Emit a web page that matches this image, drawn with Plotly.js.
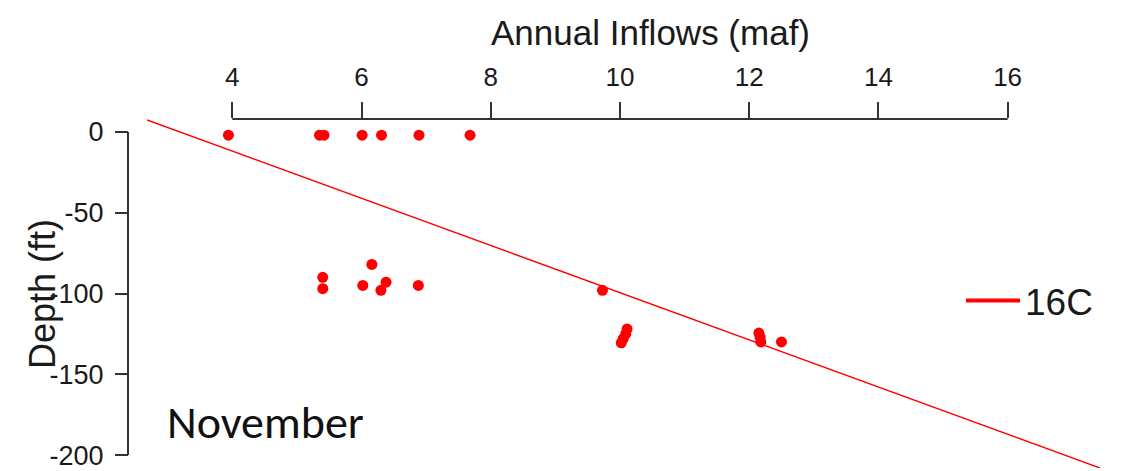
<!DOCTYPE html>
<html>
<head>
<meta charset="utf-8">
<script src="https://cdn.plot.ly/plotly-3.0.1.min.js"></script>
<style>html,body{margin:0;padding:0;background:#fff;}#chart{width:1128px;height:471px;}</style>
</head>
<body>
<div id="chart"></div>
<script>
// Observed points: annual inflow (maf) vs depth (ft) of the 16C isotherm, November
const inflows = [3.94, 5.35, 5.42, 6.01, 6.31, 6.89, 7.68,
                 5.40, 5.40, 6.02, 6.16, 6.30, 6.38, 6.88, 9.73,
                 10.11, 10.09, 10.05, 10.02, 12.15, 12.17, 12.18, 12.50];
const depths  = [-2, -2, -2, -2, -2, -2, -2,
                 -90, -97, -95, -82, -98, -93, -95, -98,
                 -122, -125, -128, -130.5, -124.5, -127, -130, -130];
// Fitted regression line (depth = intercept + slope * inflow)
const fitIntercept = 46.5;
const fitSlope = -14.6;
const seriesName = "16C";
const xTickVals = [4, 6, 8, 10, 12, 14, 16];
const yTickVals = [0, -50, -100, -150, -200];
const xTitle = "Annual Inflows (maf)";
const yTitle = "Depth (ft)";
const panelLabel = "November";

const xRange = [2.68, 17.43];
const yRange = [-208, 8];
const fitX = xRange.slice();
const fitY = fitX.map(v => fitIntercept + fitSlope * v);

const red = "#ff0000";
const axisColor = "#333333";
const textColor = "#1a1a1a";

const traces = [
  {x: inflows, y: depths, type: "scatter", mode: "markers",
   marker: {color: red, size: 11}, showlegend: false, cliponaxis: true},
  {x: fitX, y: fitY, type: "scatter", mode: "lines",
   line: {color: red, width: 1.5}, showlegend: false},
  {x: [null], y: [null], type: "scatter", mode: "lines", name: seriesName,
   line: {color: red, width: 4}, showlegend: true}
];

const layout = {
  width: 1128, height: 471,
  margin: {l: 128, r: 28, t: 119, b: 3, pad: 0},
  paper_bgcolor: "#ffffff", plot_bgcolor: "#ffffff",
  font: {family: "Liberation Sans, Arial, sans-serif", color: textColor},
  xaxis: {
    domain: [0.01955, 1], range: xRange, side: "top",
    tickvals: xTickVals, ticktext: xTickVals.map(String),
    ticks: "outside", ticklen: 16, tickwidth: 2, tickcolor: axisColor,
    showline: false, showgrid: false, zeroline: false,
    tickfont: {size: 26, color: textColor}, ticklabelstandoff: 6,
    automargin: false, fixedrange: true
  },
  yaxis: {
    range: yRange, anchor: "free", position: 0,
    tickvals: yTickVals, ticktext: yTickVals.map(String),
    ticks: "outside", ticklen: 13, tickwidth: 2, tickcolor: axisColor,
    showline: false, showgrid: false, zeroline: false,
    tickfont: {size: 27, color: textColor}, ticklabelstandoff: 6,
    automargin: false, fixedrange: true
  },
  shapes: [
    {type: "line", xref: "x", yref: "paper",
     x0: xTickVals[0], x1: xTickVals[xTickVals.length - 1], y0: 1, y1: 1,
     line: {color: axisColor, width: 2}},
    {type: "line", xref: "paper", yref: "y",
     x0: 0, x1: 0, y0: yTickVals[0], y1: yTickVals[yTickVals.length - 1],
     line: {color: axisColor, width: 2}}
  ],
  legend: {
    x: (961 - 128) / 972, xanchor: "left",
    y: (468 - 301) / 349, yanchor: "middle",
    bgcolor: "rgba(0,0,0,0)", borderwidth: 0,
    font: {size: 37, color: textColor}, itemwidth: 54
  },
  annotations: [
    {text: xTitle, xref: "paper", yref: "paper",
     x: (650 - 128) / 972, y: (468 - 32) / 349,
     xanchor: "center", yanchor: "middle", showarrow: false,
     font: {size: 35, color: textColor}},
    {text: yTitle, xref: "paper", yref: "paper", textangle: -90,
     x: (42 - 128) / 972, y: (468 - 294) / 349,
     xanchor: "center", yanchor: "middle", showarrow: false,
     font: {size: 36, color: textColor}},
    {text: panelLabel, xref: "paper", yref: "paper",
     x: (165 - 128) / 972, y: (468 - 422) / 349,
     xanchor: "left", yanchor: "middle", showarrow: false,
     font: {family: "Carlito, Open Sans, sans-serif", size: 46, color: "#111"}}
  ]
};

Plotly.newPlot("chart", traces, layout, {staticPlot: true, displayModeBar: false});
</script>
</body>
</html>
